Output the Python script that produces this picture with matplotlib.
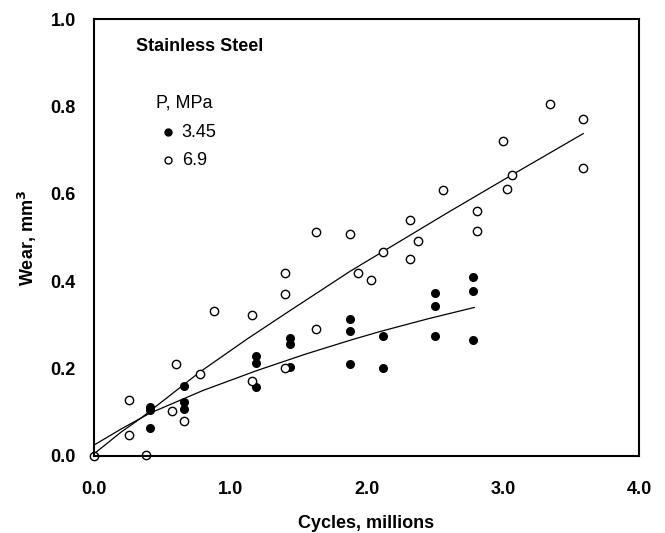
import matplotlib.pyplot as plt

plt.rcParams['font.family'] = ['Liberation Sans', 'DejaVu Sans']

# P = 3.45 MPa (filled circles)
x_345 = [0.41, 0.41, 0.41, 0.66, 0.66, 0.66, 1.19, 1.19, 1.19,
         1.44, 1.44, 1.44, 1.88, 1.88, 1.88, 2.12, 2.12,
         2.50, 2.50, 2.50, 2.78, 2.78, 2.78]
y_345 = [0.113, 0.105, 0.065, 0.161, 0.124, 0.107, 0.229, 0.212, 0.159,
         0.269, 0.256, 0.203, 0.313, 0.287, 0.211, 0.275, 0.201,
         0.372, 0.344, 0.275, 0.410, 0.378, 0.265]

# P = 6.9 MPa (open circles)
x_69 = [0.0, 0.38, 0.26, 0.26, 0.57, 0.60, 0.66, 0.78, 0.88, 1.16, 1.16,
        1.40, 1.40, 1.40, 1.63, 1.63, 1.88, 1.94, 2.03, 2.12, 2.32, 2.38,
        2.32, 2.56, 2.81, 2.81, 3.00, 3.07, 3.03, 3.35, 3.59, 3.59]
y_69 = [0.0, 0.002, 0.048, 0.128, 0.103, 0.210, 0.081, 0.187, 0.332, 0.323, 0.172,
        0.420, 0.371, 0.202, 0.513, 0.290, 0.508, 0.420, 0.403, 0.466, 0.541, 0.493,
        0.450, 0.608, 0.562, 0.514, 0.722, 0.644, 0.611, 0.805, 0.771, 0.659]

# trend lines
fit_x_345 = [0.0, 0.2, 0.41, 0.8, 1.19, 1.55, 1.88, 2.10, 2.45, 2.79]
fit_y_345 = [0.025, 0.062, 0.098, 0.150, 0.195, 0.233, 0.265, 0.285, 0.314, 0.340]
fit_x_69 = [0.0, 0.2, 0.35, 0.78, 1.12, 1.40, 1.88, 2.12, 2.60, 3.07, 3.59]
fit_y_69 = [0.005, 0.055, 0.088, 0.193, 0.267, 0.325, 0.423, 0.468, 0.558, 0.644, 0.738]

fig = plt.figure(figsize=(6.65, 5.33), dpi=100)
ax = fig.add_axes([0.1414, 0.1445, 0.8196, 0.8195])

ax.plot(fit_x_69, fit_y_69, color='black', lw=0.9)
ax.plot(fit_x_345, fit_y_345, color='black', lw=0.9)
ax.plot(x_345, y_345, 'o', color='black', ms=5.5, clip_on=False)
ax.plot(x_69, y_69, 'o', mfc='white', mec='black', mew=1.0, ms=6, clip_on=False)

ax.set_xlim(0, 4)
ax.set_ylim(0, 1)
ax.set_xticks([0, 1, 2, 3, 4])
ax.set_xticklabels(['0.0', '1.0', '2.0', '3.0', '4.0'])
ax.set_yticks([0, 0.2, 0.4, 0.6, 0.8, 1.0])
ax.set_yticklabels(['0.0', '0.2', '0.4', '0.6', '0.8', '1.0'])
ax.tick_params(axis='x', length=0, pad=18, labelsize=13)
ax.tick_params(axis='y', length=0, pad=13, labelsize=13)
for lab in ax.get_xticklabels() + ax.get_yticklabels():
    lab.set_fontweight('bold')
for sp in ax.spines.values():
    sp.set_linewidth(1.5)

ax.set_xlabel('Cycles, millions', fontsize=13, fontweight='bold', labelpad=12)
ax.set_ylabel('Wear, mm$^\\mathbf{3}$', fontsize=13, fontweight='bold', labelpad=8)

# annotations / legend
ax.text(0.077, 0.937, 'Stainless Steel', transform=ax.transAxes,
        fontsize=13, fontweight='bold', va='center', ha='left')
ax.text(0.114, 0.808, 'P, MPa', transform=ax.transAxes, fontsize=13, va='center')
ax.plot([0.136], [0.741], 'o', color='black', ms=5, transform=ax.transAxes, clip_on=False)
ax.text(0.161, 0.741, '3.45', transform=ax.transAxes, fontsize=13, va='center')
ax.plot([0.136], [0.677], 'o', mfc='white', mec='black', mew=1.0, ms=5,
        transform=ax.transAxes, clip_on=False)
ax.text(0.161, 0.677, '6.9', transform=ax.transAxes, fontsize=13, va='center')

plt.savefig('out.png', dpi=100)
